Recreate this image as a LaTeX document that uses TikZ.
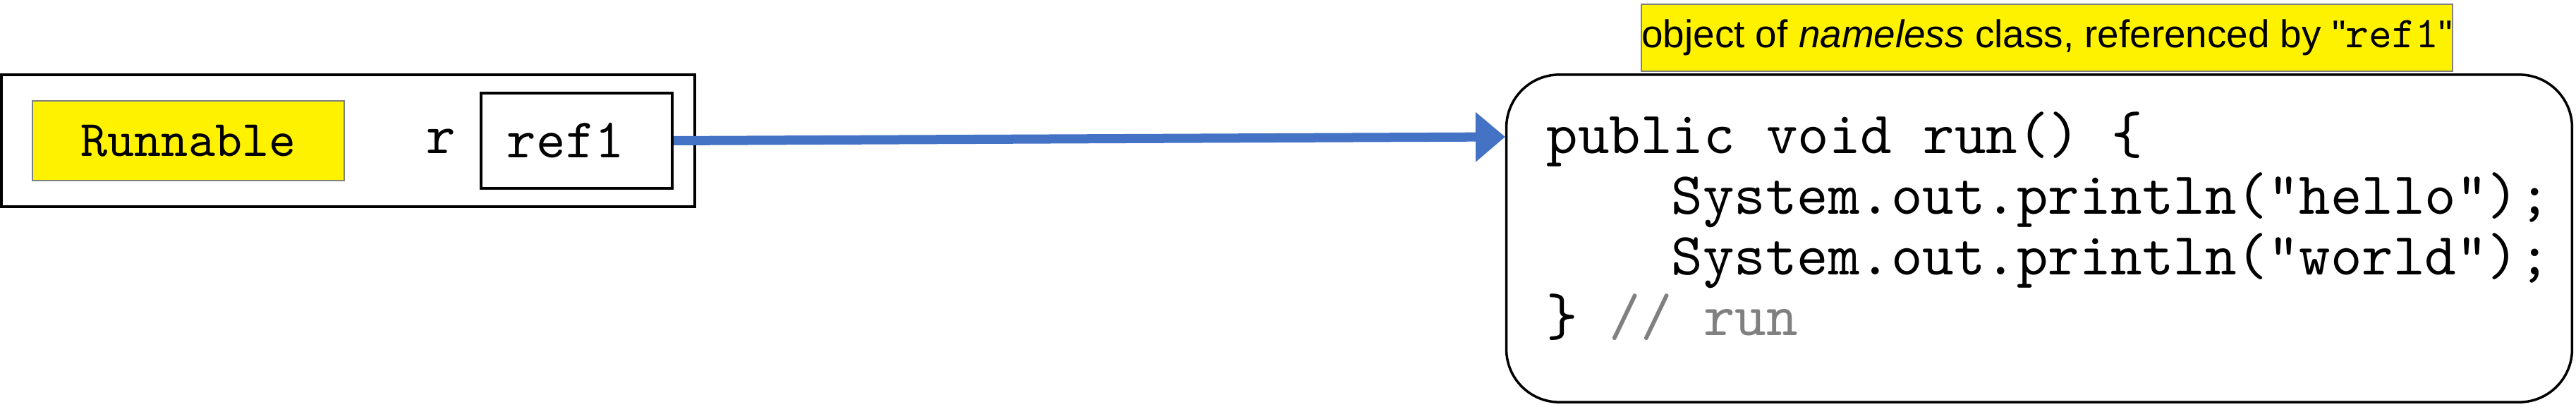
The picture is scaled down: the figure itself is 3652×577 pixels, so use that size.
\documentclass[tikz,border=0pt]{standalone}
\usepackage{fontspec}
\newfontfamily\tagfont{Liberation Sans}
\newfontfamily\codefont{lmmono10-regular}[Extension=.otf]
\usepackage{tikz}
\usetikzlibrary{arrows.meta}
\definecolor{ptrblue}{RGB}{68,114,196}
\definecolor{cmtgray}{RGB}{128,128,128}

\begin{document}
\begin{tikzpicture}[x=0.01cm,y=-0.01cm,
  frame/.style={draw=black,line width=0.04cm,minimum width=9.83cm,minimum height=1.87cm,inner sep=0pt},
  typebox/.style={fill=yellow,draw=cmtgray,line width=0.02cm,minimum width=4.42cm,minimum height=1.13cm,inner sep=0pt,font=\fontsize{20.6}{22}\codefont},
  refbox/.style={draw=black,line width=0.04cm,minimum height=1.35cm,text width=1.97cm,inner xsep=0.37cm,inner ysep=0pt,align=left,font=\fontsize{22.5}{24}\codefont},
  varname/.style={inner sep=0pt,font=\fontsize{22.5}{24}\codefont},
  tag/.style={fill=yellow,draw=cmtgray,line width=0.02cm,minimum width=11.36cm,minimum height=0.95cm,inner sep=0pt,font=\fontsize{15.6}{18}\tagfont},
  objbox/.style={draw=black,line width=0.035cm,rounded corners=0.75cm,minimum width=15.10cm,minimum height=4.64cm,inner sep=0pt},
  codeline/.style={anchor=base west,inner sep=0pt,font=\fontsize{24.1}{26}\codefont},
  ptr/.style={draw=ptrblue,line width=0.13cm,-{Triangle[length=0.42cm,width=0.68cm]}}]
\useasboundingbox (0,0) rectangle (3652,577);
\node[frame] (var) at (493.5,199.5) {};
\node[typebox] (runnable) at (267,199.5) {Runnable};
\node[varname,anchor=base] (rname) at (625,218) {r};
\node[refbox] (ref) at (817.5,199.5) {ref1};
\node[tag] (objtag) at (2902,53.5) {object of \textit{nameless} class, referenced by "{\fontsize{17.8}{18}\codefont ref1}"};
\node[objbox] (obj) at (2891,338) {};
\node[codeline] (line1) at (2192,218) {public void run() \{};
\node[codeline] (line2) at (2369,304) {System.out.println("hello");};
\node[codeline] (line3) at (2369,390) {System.out.println("world");};
\node[codeline] (line4) at (2192,476) {\} {\color{cmtgray}// run}};
\coordinate (tip) at (2134,194);
\draw[ptr] (ref.east) -- (tip);
\end{tikzpicture}
\end{document}
